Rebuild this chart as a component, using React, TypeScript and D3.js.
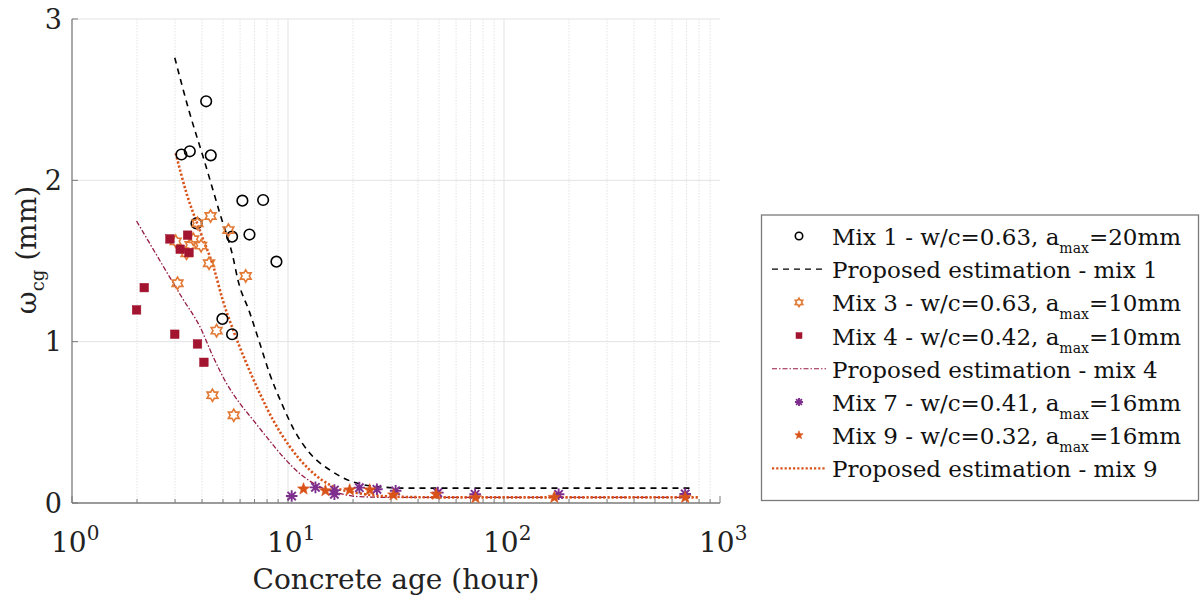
import React from 'react';
import * as d3 from 'd3';

// ---- data (x: concrete age in hours, y: omega_cg in mm) ----
const mix1Points: [number, number][] = [
  [4.18, 2.49], [3.21, 2.16], [3.51, 2.18], [4.39, 2.155], [6.15, 1.874], [7.67, 1.878],
  [3.77, 1.733], [5.51, 1.651], [6.63, 1.664], [8.84, 1.496], [4.97, 1.141], [5.51, 1.046],
];
const mix3Points: [number, number][] = [
  [4.38, 1.779], [3.81, 1.734], [5.30, 1.692], [3.02, 1.622], [3.64, 1.635], [3.54, 1.60],
  [3.96, 1.595], [3.39, 1.548], [4.31, 1.486], [6.37, 1.407], [3.08, 1.362], [4.67, 1.068],
  [4.47, 0.668], [5.61, 0.544],
];
const mix4Points: [number, number][] = [
  [2.84, 1.637], [3.43, 1.66], [3.17, 1.573], [3.48, 1.552], [2.16, 1.335], [1.99, 1.197],
  [2.99, 1.046], [3.81, 0.986], [4.08, 0.872],
];
const mix7Points: [number, number][] = [
  [10.4, 0.043], [13.4, 0.097], [16.4, 0.054], [16.4, 0.08], [21.4, 0.095], [25.8, 0.085],
  [31.5, 0.076], [49.4, 0.064], [73.5, 0.054], [179, 0.054], [690, 0.056],
];
const mix9Points: [number, number][] = [
  [11.8, 0.087], [14.9, 0.076], [19.3, 0.081], [23.9, 0.081], [30.8, 0.05], [48.5, 0.054],
  [73.8, 0.033], [171, 0.035], [690, 0.035],
];

// proposed estimation curves
const est1Points: [number, number][] = [
  [2.99, 2.76], [3.5, 2.42], [4.1, 2.12], [4.85, 1.79], [5.55, 1.53], [5.87, 1.38], [6.65, 1.18],
  [7.4, 0.99], [8.23, 0.8], [9.33, 0.62], [10.7, 0.45], [12.6, 0.31], [15.6, 0.205], [20, 0.13],
  [26.5, 0.101], [35, 0.092], [743, 0.092],
];
const est4Points: [number, number][] = [
  [1.99, 1.748], [3.27, 1.262], [3.91, 1.093], [4.5, 0.907], [5.19, 0.742], [5.98, 0.618],
  [6.89, 0.515], [7.94, 0.411], [9.48, 0.287], [11.3, 0.184], [14.0, 0.101], [17.3, 0.06],
  [21.4, 0.039], [30, 0.035], [760, 0.035],
];
const est9Points: [number, number][] = [
  [3.02, 2.168], [3.39, 1.92], [3.95, 1.672], [4.55, 1.45], [4.98, 1.26], [5.57, 1.073],
  [6.42, 0.866], [7.4, 0.68], [8.52, 0.515], [10.2, 0.349], [12.6, 0.205], [16.2, 0.101],
  [21.4, 0.06], [30, 0.04], [50, 0.035], [790, 0.035],
];

const yTicks = [0, 1, 2, 3];
const xDecades = [1, 10, 100, 1000];

const legendLabels = [
  { kind: 'circle', main: 'Mix 1 - w/c=0.63, a', sub: 'max', tail: '=20mm' },
  { kind: 'dash', main: 'Proposed estimation - mix 1' },
  { kind: 'hexagram', main: 'Mix 3 - w/c=0.63, a', sub: 'max', tail: '=10mm' },
  { kind: 'square', main: 'Mix 4 - w/c=0.42, a', sub: 'max', tail: '=10mm' },
  { kind: 'dashdot', main: 'Proposed estimation - mix 4' },
  { kind: 'asterisk', main: 'Mix 7 - w/c=0.41, a', sub: 'max', tail: '=16mm' },
  { kind: 'pentagram', main: 'Mix 9 - w/c=0.32, a', sub: 'max', tail: '=16mm' },
  { kind: 'dotted', main: 'Proposed estimation - mix 9' },
];

const C_BLACK = '#000000';
const C_MIX3 = '#E27A35';
const C_MIX4 = '#A2142F';
const C_EST4 = '#951D45';
const C_MIX7 = '#7E2F8E';
const C_MIX9 = '#D95319';

const FONT = "'DejaVu Serif', serif";

function starPath(n: number, R: number, r: number): string {
  const pts: string[] = [];
  for (let k = 0; k < n * 2; k++) {
    const a = -Math.PI / 2 + (k * Math.PI) / n;
    const rad = k % 2 === 0 ? R : r;
    pts.push(`${(rad * Math.cos(a)).toFixed(2)},${(rad * Math.sin(a)).toFixed(2)}`);
  }
  return 'M' + pts.join('L') + 'Z';
}

function Marker({ kind, x, y, s = 1 }: { kind: string; x: number; y: number; s?: number }) {
  const t = `translate(${x},${y})`;
  if (kind === 'circle') {
    return <circle cx={x} cy={y} r={5.3 * s} fill="none" stroke={C_BLACK} strokeWidth={1.6} />;
  }
  if (kind === 'hexagram') {
    return <path transform={t} d={starPath(6, 6.2 * s, 3.6 * s)} fill="none" stroke={C_MIX3} strokeWidth={1.6} />;
  }
  if (kind === 'square') {
    const h = 4.3 * s;
    return <rect x={x - h} y={y - h} width={2 * h} height={2 * h} fill={C_MIX4} stroke={C_MIX4} strokeWidth={0.5} />;
  }
  if (kind === 'asterisk') {
    const R = 5.8 * s;
    const d = R * 0.72;
    return (
      <path transform={t} d={`M${-R},0L${R},0M0,${-R}L0,${R}M${-d},${-d}L${d},${d}M${-d},${d}L${d},${-d}`}
        stroke={C_MIX7} strokeWidth={1.9} fill="none" />
    );
  }
  if (kind === 'pentagram') {
    return <path transform={t} d={starPath(5, 6.3 * s, 2.6 * s)} fill={C_MIX9} stroke={C_MIX9} strokeWidth={0.6} />;
  }
  return null;
}

const lineStyles: Record<string, { stroke: string; width: number; dash: string }> = {
  dash: { stroke: C_BLACK, width: 1.6, dash: '6,5' },
  dashdot: { stroke: C_EST4, width: 1.3, dash: '5,2,1.5,2' },
  dotted: { stroke: C_MIX9, width: 2.6, dash: '2.2,2' },
};

export default function App() {
  const width = 1202;
  const height = 602;
  const left = 72, right = 720, top = 19, bottom = 503;

  const x = d3.scaleLog().domain([1, 1000]).range([left, right]);
  const y = d3.scaleLinear().domain([0, 3]).range([bottom, top]);

  const line = d3.line<[number, number]>().x(d => x(d[0])).y(d => y(d[1])).curve(d3.curveMonotoneX);

  const minorX: number[] = [];
  for (const dec of [1, 10, 100]) for (let m = 2; m <= 9; m++) minorX.push(dec * m);

  const legX = 761.5, legY = 215, legW = 437, legH = 285.5;
  const rowBase = (i: number) => 245 + i * 33.2;

  return (
    <svg width={width} height={height} fontFamily={FONT}
      style={{ position: 'absolute', left: 0, top: 0, background: '#fff' }}>
      <rect width={width} height={height} fill="#fff" />

      {/* grid */}
      {minorX.map(v => (
        <line key={'mx' + v} x1={x(v)} x2={x(v)} y1={top} y2={bottom} stroke="#dcdcdc" strokeWidth={0.8} strokeDasharray="1.5,1.5" />
      ))}
      {xDecades.slice(1, 3).map(v => (
        <line key={'gx' + v} x1={x(v)} x2={x(v)} y1={top} y2={bottom} stroke="#e3e3e3" strokeWidth={1} />
      ))}
      {yTicks.slice(1).map(v => (
        <line key={'gy' + v} x1={left} x2={right} y1={y(v)} y2={y(v)} stroke="#e3e3e3" strokeWidth={1} />
      ))}

      {/* axes */}
      <line x1={left} x2={left} y1={top} y2={bottom} stroke="#7a7a7a" strokeWidth={1.3} />
      <line x1={left} x2={right} y1={bottom} y2={bottom} stroke="#7a7a7a" strokeWidth={1.3} />
      {yTicks.map(v => (
        <g key={'yt' + v}>
          <line x1={left} x2={left + 6} y1={y(v)} y2={y(v)} stroke="#7a7a7a" strokeWidth={1} />
          <text x={62} y={y(v)} dy="0.36em" textAnchor="end" fontSize={27} fill="#222">{v}</text>
        </g>
      ))}
      {minorX.map(v => (
        <line key={'mt' + v} x1={x(v)} x2={x(v)} y1={bottom} y2={bottom - 4} stroke="#7a7a7a" strokeWidth={1} />
      ))}
      {xDecades.map((v, i) => (
        <g key={'xt' + v}>
          <line x1={x(v)} x2={x(v)} y1={bottom} y2={bottom - 7} stroke="#7a7a7a" strokeWidth={1} />
          <text x={x(v) - 21} y={552} fontSize={28} fill="#222">
            10<tspan dy={-12} fontSize={20}>{i}</tspan>
          </text>
        </g>
      ))}

      {/* axis titles */}
      <text x={(left + right) / 2} y={589} textAnchor="middle" fontSize={28} fill="#222">Concrete age (hour)</text>
      <text transform={`translate(36,250) rotate(-90)`} textAnchor="middle" fontSize={28} fill="#222">
        ω<tspan dy={8} fontSize={18}>cg</tspan><tspan dy={-8}> (mm)</tspan>
      </text>

      {/* proposed estimation curves */}
      <path d={line(est1Points) || ''} fill="none" stroke={lineStyles.dash.stroke} strokeWidth={lineStyles.dash.width} strokeDasharray={lineStyles.dash.dash} />
      <path d={line(est4Points) || ''} fill="none" stroke={lineStyles.dashdot.stroke} strokeWidth={lineStyles.dashdot.width} strokeDasharray={lineStyles.dashdot.dash} />
      <path d={line(est9Points) || ''} fill="none" stroke={lineStyles.dotted.stroke} strokeWidth={lineStyles.dotted.width} strokeDasharray={lineStyles.dotted.dash} />

      {/* measured points */}
      {mix1Points.map((p, i) => <Marker key={'m1' + i} kind="circle" x={x(p[0])} y={y(p[1])} />)}
      {mix3Points.map((p, i) => <Marker key={'m3' + i} kind="hexagram" x={x(p[0])} y={y(p[1])} />)}
      {mix4Points.map((p, i) => <Marker key={'m4' + i} kind="square" x={x(p[0])} y={y(p[1])} />)}
      {mix7Points.map((p, i) => <Marker key={'m7' + i} kind="asterisk" x={x(p[0])} y={y(p[1])} />)}
      {mix9Points.map((p, i) => <Marker key={'m9' + i} kind="pentagram" x={x(p[0])} y={y(p[1])} />)}

      {/* legend */}
      <rect x={legX} y={legY} width={legW} height={legH} fill="#fff" stroke="#7a7a7a" strokeWidth={1.3} />
      {legendLabels.map((e, i) => {
        const base = rowBase(i);
        const cy = base - 9;
        const ls = lineStyles[e.kind];
        return (
          <g key={'lg' + i}>
            {ls ? (
              <line x1={772} x2={826} y1={cy} y2={cy} stroke={ls.stroke} strokeWidth={ls.width * 0.8} strokeDasharray={ls.dash} />
            ) : (
              <Marker kind={e.kind} x={799} y={cy} s={0.7} />
            )}
            <text x={832} y={base} fontSize={23} fill="#111">
              {e.main}
              {e.sub ? <tspan dy={8} fontSize={14}>{e.sub}</tspan> : null}
              {e.tail ? <tspan dy={-8}>{e.tail}</tspan> : null}
            </text>
          </g>
        );
      })}
    </svg>
  );
}
